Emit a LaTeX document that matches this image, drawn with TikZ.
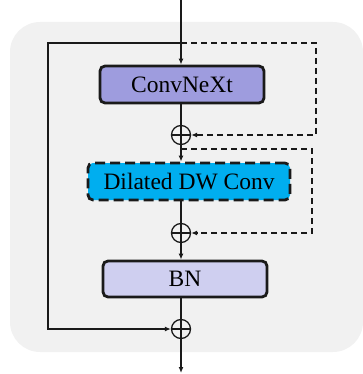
\documentclass[tikz,border=0pt]{standalone}
\usepackage{fontspec}
\setmainfont{Liberation Serif}
\usepackage{xcolor}
\usepackage{tikz}
\usetikzlibrary{calc,arrows.meta,positioning}
\definecolor{bgc}{HTML}{F1F1F1}
\definecolor{linec}{HTML}{1A1A1A}
\definecolor{convc}{HTML}{9E9CDE}
\definecolor{dilc}{HTML}{00AEEF}
\definecolor{bnc}{HTML}{CFCFF0}
\tikzset{
  ar/.style={-{Latex[length=6pt,width=5pt]},line width=1.3pt,linec},
  ln/.style={line width=1.3pt,linec},
  dsh/.style={line width=1.3pt,linec,dash pattern=on 6pt off 4pt},
  blk/.style={draw=linec,line width=2.8pt,rounded corners=5pt,inner sep=0pt,
    minimum height=37pt,font=\rmfamily\fontsize{23.5}{27}\selectfont},
  plus/.style={circle,draw=linec,line width=1.3pt,minimum size=19pt,inner sep=0pt,
    path picture={\draw[line width=1.3pt,linec]
      (path picture bounding box.north) -- (path picture bounding box.south)
      (path picture bounding box.west) -- (path picture bounding box.east);}}
}
\begin{document}
\begin{tikzpicture}[x=1pt,y=-1pt]
\useasboundingbox (0,0) rectangle (363,374);
\fill[bgc,rounded corners=30pt] (10,22) rectangle (363,352);
% blocks
\node[blk,fill=convc,minimum width=164pt] (conv) at (182,84.5) {ConvNeXt};
\node[blk,fill=dilc,minimum width=202pt,dash pattern=on 10pt off 5pt] (dil) at (189,181.5) {Dilated DW Conv};
\node[blk,fill=bnc,minimum width=164pt,minimum height=36pt] (bn) at (185,279) {BN};
\node[plus] (p1) at (181,135) {};
\node[plus] (p2) at (181,233) {};
\node[plus] (p3) at (181,329) {};
\coordinate (in) at (181,0);
\coordinate (out) at (181,373);
\coordinate (s1) at (181,43);
\coordinate (s2) at (181,149);
% main path
\draw[ar] (in) -- (conv.north -| in);
\draw[ln] (conv.south -| p1) -- (p1);
\draw[ar] (p1) -- (dil.north -| p1);
\draw[ln] (dil.south -| p2) -- (p2);
\draw[ar] (p2) -- (bn.north -| p2);
\draw[ln] (bn.south -| p3) -- (p3);
\draw[ar] (p3) -- (out);
% skips
\draw[ar] (s1) -- ++(-133,0) |- (p3);
\draw[dsh,-{Latex[length=6pt,width=5pt]}] (s1) -- ++(135,0) |- (p1);
\draw[dsh,-{Latex[length=6pt,width=5pt]}] (s2) -- ++(131,0) |- (p2);
\end{tikzpicture}
\end{document}
